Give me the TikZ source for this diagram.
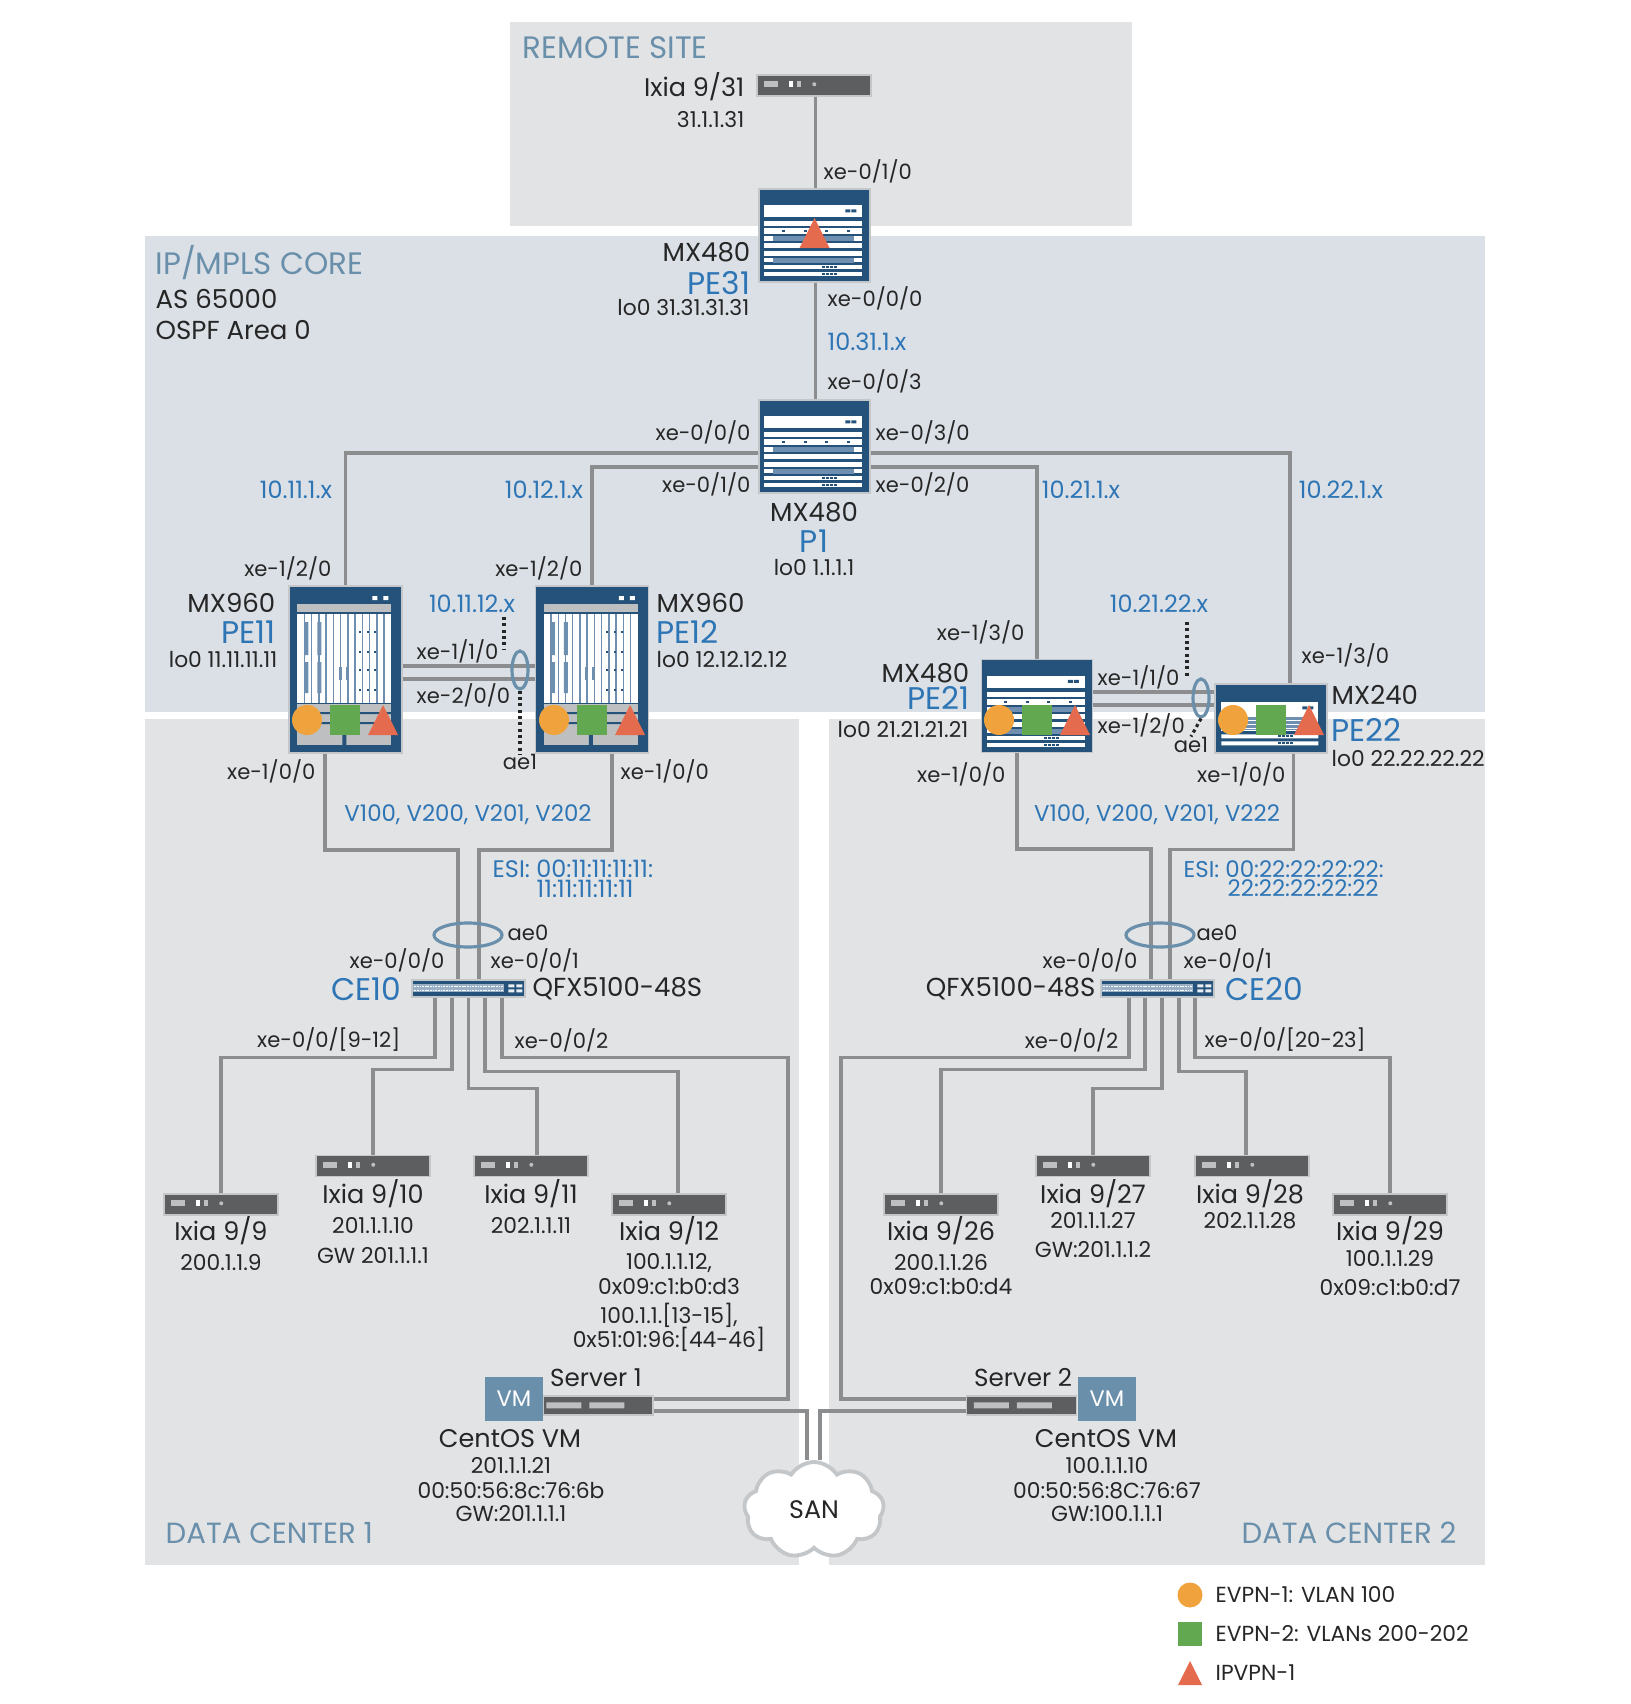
\documentclass[tikz,border=0pt]{standalone}
\usepackage{fontspec}
\setmainfont{Poppins}
\usepackage{xcolor}
\definecolor{mxblue}{HTML}{24527A}
\definecolor{netblue}{HTML}{2E75B5}
\definecolor{zonelabel}{HTML}{6A8FAB}
\definecolor{zonegray}{HTML}{E2E3E5}
\definecolor{zonecore}{HTML}{DAE0E6}
\definecolor{edgegray}{HTML}{C4C7CA}
\definecolor{linkgray}{HTML}{8B8D8F}
\definecolor{ixiagray}{HTML}{5C5E60}
\definecolor{cardgray}{HTML}{BDBFC1}
\definecolor{stripe}{HTML}{6F8FB0}
\definecolor{evpnone}{HTML}{F0A33C}
\definecolor{evpntwo}{HTML}{62A850}
\definecolor{ipvpn}{HTML}{E56B4E}
\usetikzlibrary{shapes.geometric, shapes.symbols}

%% --- faces of the boxes, coordinates from the top left corner ---
\newcommand{\mxfourface}[1]{%
  \begin{scope}[shift={(#1.north west)}]
    \fill[white] (6,17) rectangle (104,29);
    \fill[mxblue] (87,21) rectangle (92,24) (93,21) rectangle (98,24);
    \foreach \ya/\yb in {33/38,40/46,48/53,55/60,63/68,70/74,77/81,84/88}
      \fill[white] (6,\ya) rectangle (104,\yb);
    \foreach \yc in {48,70} \fill[stripe] (15,\yc) rectangle (96,\yc+5);
    \foreach \xc in {25,47,68,90} \fill[mxblue] (\xc-1.5,42) rectangle (\xc+1.5,44);
    \foreach \yc in {79,86} \foreach \xc in {65,69,73,77}
      \fill[mxblue] (\xc-1.3,\yc-1) rectangle (\xc+1.3,\yc+1);
  \end{scope}}
\newcommand{\mxninface}[1]{%
  \begin{scope}[shift={(#1.north west)}]
    \fill[white] (84,11) rectangle (89,15) (95,11) rectangle (100,15);
    \fill[cardgray] (9,19) rectangle (103,27);
    \fill[white] (9,29) rectangle (103,118);
    \foreach \i in {1,...,12} \draw[stripe,line width=0.4pt] (9+\i*7.23,29) -- ++(0,89);
    \foreach \xc in {18,31} \fill[stripe] (\xc-2,37) rectangle (\xc+2,70) (\xc-2,77) rectangle (\xc+2,108);
    \foreach \xc in {72,80,87} \foreach \yc in {47,67,85,105}
      \fill[mxblue] (\xc-.9,\yc-.9) rectangle (\xc+.9,\yc+.9);
    \foreach \xc in {52,59} \fill[stripe] (\xc-1.5,82) rectangle (\xc+1.5,95);
    \fill[cardgray] (9,119) rectangle (103,160);
    \fill[mxblue] (9,127) rectangle (103,129) (9,137) rectangle (103,139) (54,139) rectangle (58,160);
  \end{scope}}
\newcommand{\mxtwoface}[1]{%
  \begin{scope}[shift={(#1.north west)}]
    \fill[white] (7,19) rectangle (104,48);
    \fill[stripe] (20,34) rectangle (96,47);
    \foreach \yc in {37,41,45} \fill[white] (20,\yc) rectangle (96,\yc+1);
    \fill[mxblue] (88,23) rectangle (93,26) (94,23) rectangle (99,26);
    \fill[white] (7,51) rectangle (104,55) (7,58) rectangle (104,62);
    \foreach \yc in {53,60} \foreach \xc in {65,69,73,77}
      \fill[mxblue] (\xc-1.3,\yc-1) rectangle (\xc+1.3,\yc+1);
  \end{scope}}
\newcommand{\ixiaface}[1]{%
  \begin{scope}[shift={(#1.north west)}]
    \fill[cardgray] (8,7) rectangle (22,13);
    \fill[white] (33,7) rectangle (37,13);
    \fill[cardgray] (41,7) rectangle (45,13);
    \fill[cardgray] (58,10) circle (2);
  \end{scope}}
\newcommand{\qfxface}[1]{%
  \begin{scope}[shift={(#1.north west)}]
    \fill[stripe!70!white] (2,5) rectangle (93,13);
    \foreach \yc in {7,11} \draw[white,line width=0.3pt,dash pattern=on 0.5pt off 0.25pt] (3,\yc) -- (92,\yc);
    \foreach \yc in {5,10} \fill[white!85!stripe] (97,\yc) rectangle (103,\yc+3) (105,\yc) rectangle (111,\yc+3);
  \end{scope}}
\newcommand{\serverface}[2]{%
  \begin{scope}[shift={(#1.north west)}]
    \fill[cardgray] (#2,7) rectangle (#2+35,13) (#2+43,7) rectangle (#2+78,13);
  \end{scope}}
\newcommand{\tricon}[3]{\fill[ipvpn,shift={(#1,#2)}] (-#3,#3) -- (#3,#3) -- (0,-#3) -- cycle;}

\begin{document}
\begin{tikzpicture}[
  x=0.01cm, y=-0.01cm,
  every node/.style={inner sep=0pt, text=black!85},
  port/.style={font=\fontsize{6}{7}\selectfont},
  addr/.style={font=\fontsize{6.2}{7}\selectfont},
  model/.style={font=\fontsize{7.25}{8}\selectfont},
  chassis/.style={font=\fontsize{7.4}{8}\selectfont},
  pename/.style={font=\fontsize{8.9}{10}\selectfont, text=netblue},
  subnet/.style={font=\fontsize{6.8}{8}\selectfont, text=netblue},
  vlans/.style={subnet, font=\fontsize{6.5}{8}\selectfont},
  zone/.style={font=\fontsize{8.8}{10}\selectfont, text=zonelabel},
  dczone/.style={zone, font=\fontsize{8.3}{10}\selectfont},
  mxfour/.style={rectangle, draw=edgegray, line width=0.4pt, fill=mxblue,
                 minimum width=1.11cm, minimum height=0.93cm},
  mxnine/.style={mxfour, minimum width=1.13cm, minimum height=1.67cm},
  mxtwo/.style={mxfour, minimum width=1.12cm, minimum height=0.69cm},
  ixia/.style={rectangle, draw=edgegray, line width=0.4pt, fill=ixiagray,
               minimum width=1.14cm, minimum height=0.21cm},
  qfx/.style={mxfour, minimum width=1.13cm, minimum height=0.17cm},
  server/.style={ixia, minimum width=1.10cm, minimum height=0.19cm},
  vmbox/.style={rectangle, fill=zonelabel, text=white, minimum width=0.58cm,
                minimum height=0.44cm, font=\fontsize{6.4}{7}\selectfont},
  link/.style={draw=linkgray, line width=1pt},
  lag/.style={ellipse, draw=zonelabel, line width=0.9pt, fill=none},
  aedot/.style={draw=black!85, line width=0.9pt, dash pattern=on 0.9pt off 0.9pt},
  evpnc/.style={circle, fill=evpnone, minimum size=0.30cm},
  evpns/.style={rectangle, fill=evpntwo, minimum size=0.30cm},
]
\useasboundingbox (0,0) rectangle (1630,1704);

%% --- zones ---
\fill[zonegray] (510,22) rectangle (1132,226);
\fill[zonecore] (145,236) rectangle (1485,712);
\fill[zonegray] (145,719) rectangle (799,1565);
\fill[zonegray] (829,719) rectangle (1485,1565);

\node[zone, anchor=west] (zremote) at (522,48) {REMOTE SITE};
\node[zone, anchor=west] (zcore) at (155,263) {IP/MPLS CORE};
\node[chassis, anchor=west] (zas) at (155,299) {AS 65000};
\node[chassis, anchor=west] (zospf) at (155,330) {OSPF Area 0};
\node[dczone, anchor=west] (zdc1) at (165,1533) {DATA CENTER 1};
\node[dczone, anchor=east] (zdc2) at (1457,1533) {DATA CENTER 2};

%% --- routers ---
\node[mxfour] (pe31) at (814.5,235.5) {}; \mxfourface{pe31}
\node[mxfour] (p1) at (814.5,446.5) {}; \mxfourface{p1}
\node[mxnine] (pe11) at (345.5,669.5) {}; \mxninface{pe11}
\node[mxnine] (pe12) at (592,669.5) {}; \mxninface{pe12}
\node[mxfour] (pe21) at (1037,706) {}; \mxfourface{pe21}
\node[mxtwo] (pe22) at (1271,718.5) {}; \mxtwoface{pe22}

%% --- access switches ---
\node[qfx] (ce10) at (468.5,988.5) {}; \qfxface{ce10}
\node[qfx] (ce20) at (1157.5,988.5) {}; \qfxface{ce20}

%% --- testers ---
\node[ixia] (ixia31) at (814,85.5) {}; \ixiaface{ixia31}
\node[ixia] (ixia9) at (221,1204.5) {}; \ixiaface{ixia9}
\node[ixia] (ixia10) at (373,1166) {}; \ixiaface{ixia10}
\node[ixia] (ixia11) at (531,1166) {}; \ixiaface{ixia11}
\node[ixia] (ixia12) at (669,1204.5) {}; \ixiaface{ixia12}
\node[ixia] (ixia26) at (941,1204.5) {}; \ixiaface{ixia26}
\node[ixia] (ixia27) at (1093,1166) {}; \ixiaface{ixia27}
\node[ixia] (ixia28) at (1252,1166) {}; \ixiaface{ixia28}
\node[ixia] (ixia29) at (1390,1204.5) {}; \ixiaface{ixia29}

%% --- servers and cloud ---
\node[server] (srv1) at (598,1405.5) {}; \serverface{srv1}{4}
\node[server] (srv2) at (1021.5,1405.5) {}; \serverface{srv2}{8}
\node[vmbox] (vm1) at (514,1399) {VM};
\node[vmbox] (vm2) at (1107,1399) {VM};
\node[cloud, cloud puffs=9, cloud puff arc=115, aspect=1.45, draw=edgegray, line width=1.1pt,
      fill=white, minimum width=1.40cm, minimum height=0.96cm,
      font=\fontsize{7.2}{8}\selectfont] (san) at (814,1510) {SAN};

%% --- core links ---
\draw[link] ([shift={(1.5,0)}]ixia31.south) -- ([shift={(1,0)}]pe31.north);
\draw[link] ([shift={(1,0)}]pe31.south) -- ([shift={(1,0)}]p1.north);
\draw[link] ([shift={(0,6.5)}]p1.west) -| (pe11.north);
\draw[link] ([shift={(0,20.5)}]p1.west) -| (pe12.north);
\draw[link] ([shift={(0,20.5)}]p1.east) -| (pe21.north);
\draw[link] ([shift={(0,6.5)}]p1.east) -| ([shift={(19,0)}]pe22.north);
\draw[link] ([shift={(0,-3.5)}]pe11.east) -- ([shift={(0,-3.5)}]pe12.west);
\draw[link] ([shift={(0,9.5)}]pe11.east) -- ([shift={(0,9.5)}]pe12.west);
\draw[link] ([shift={(0,-14)}]pe21.east) -- ([shift={(0,-26.5)}]pe22.west);
\draw[link] ([shift={(0,-1)}]pe21.east) -- ([shift={(0,-13.5)}]pe22.west);

%% --- uplinks to the switches ---
\draw[link] ([shift={(-20.5,0)}]pe11.south) -- ++(0,96) -| ([shift={(-10.5,0)}]ce10.north);
\draw[link] ([shift={(20,0)}]pe12.south) -- ++(0,96) -| ([shift={(10.5,0)}]ce10.north);
\draw[link] ([shift={(-20,0)}]pe21.south) -- ++(0,96) -| ([shift={(-6.5,0)}]ce20.north);
\draw[link] ([shift={(22.5,0)}]pe22.south) -- ++(0,96) -| ([shift={(12.5,0)}]ce20.north);

%% --- access links, data center 1 ---
\draw[link] ([shift={(-33.5,0)}]ce10.south) -- ++(0,60) -| (ixia9.north);
\draw[link] ([shift={(-16.5,0)}]ce10.south) -- ++(0,72) -| (ixia10.north);
\draw[link] (ce10.south) -- ++(0,91) -| ([shift={(6,0)}]ixia11.north);
\draw[link] ([shift={(16.5,0)}]ce10.south) -- ++(0,74) -| ([shift={(9,0)}]ixia12.north);
\draw[link] ([shift={(33.5,0)}]ce10.south) -- ++(0,60) -- ++(286,0) |- ([shift={(0,-6.5)}]srv1.east);
\draw[link] ([shift={(0,5.5)}]srv1.east) -| ([shift={(-7,0)}]san.north);

%% --- access links, data center 2 ---
\draw[link] ([shift={(-28.5,0)}]ce20.south) -- ++(0,60) -- ++(-288,0) |- ([shift={(0,-6.5)}]srv2.west);
\draw[link] ([shift={(-12.5,0)}]ce20.south) -- ++(0,72) -| (ixia26.north);
\draw[link] ([shift={(4.5,0)}]ce20.south) -- ++(0,91) -| (ixia27.north);
\draw[link] ([shift={(21.5,0)}]ce20.south) -- ++(0,74) -| ([shift={(-6,0)}]ixia28.north);
\draw[link] ([shift={(37.5,0)}]ce20.south) -- ++(0,60) -| (ixia29.north);
\draw[link] ([shift={(0,5.5)}]srv2.west) -| ([shift={(6,0)}]san.north);

%% --- aggregated bundles ---
\node[lag, minimum width=0.16cm, minimum height=0.38cm] (ae1a) at (520,670) {};
\node[lag, minimum width=0.16cm, minimum height=0.38cm] (ae1b) at (1201,698) {};
\node[lag, minimum width=0.68cm, minimum height=0.24cm] (ae0a) at (468,935) {};
\node[lag, minimum width=0.68cm, minimum height=0.24cm] (ae0b) at (1160,935) {};

\node[port, anchor=north] (ae1lab) at (520,754) {ae1};
\node[port] (ae1lbb) at (1191,745) {ae1};
\node[subnet] (n1112) at (472,604) {10.11.12.x};
\node[subnet] (n2122) at (1159,604) {10.21.22.x};
\draw[aedot] (504,617) -- (ae1a.north -| 504,0);
\draw[aedot] (ae1a.south) -- (ae1lab.north);
\draw[aedot] (1187,622) -- (ae1b.north -| 1187,0);
\draw[aedot] (ae1b.south) -- (ae1lbb.north);

%% --- icons on the routers ---
\tricon{814.5}{233}{15}
\node[evpnc] (oc11) at (307,720) {}; \node[evpns] (gs11) at (345,720) {}; \tricon{383}{720}{15}
\node[evpnc] (oc12) at (554,720) {}; \node[evpns] (gs12) at (592,720) {}; \tricon{630}{720}{15}
\node[evpnc] (oc21) at (999,720) {}; \node[evpns] (gs21) at (1037,720) {}; \tricon{1075}{720}{15}
\node[evpnc] (oc22) at (1233,720) {}; \node[evpns] (gs22) at (1271,720) {}; \tricon{1309}{720}{15}

%% --- remote site and PE31 labels ---
\node[model, anchor=east] (l31a) at (745,87) {Ixia 9/31};
\node[addr, anchor=east] (l31b) at (745,120) {31.1.1.31};
\node[port, anchor=west] (l31c) at (823,171) {xe-0/1/0};
\node[chassis, anchor=east] (lpe31a) at (751,252) {MX480};
\node[pename, anchor=east] (lpe31b) at (751,283) {PE31};
\node[addr, anchor=east] (lpe31c) at (750,308) {lo0 31.31.31.31};
\node[port, anchor=west] (lpe31d) at (827,298) {xe-0/0/0};
\node[subnet, anchor=west] (n31) at (827,342) {10.31.1.x};

%% --- P1 labels ---
\node[port, anchor=west] (lp1a) at (827,381) {xe-0/0/3};
\node[port, anchor=east] (lp1b) at (751,432) {xe-0/0/0};
\node[port, anchor=west] (lp1c) at (875,432) {xe-0/3/0};
\node[port, anchor=east] (lp1d) at (751,484) {xe-0/1/0};
\node[port, anchor=west] (lp1e) at (875,484) {xe-0/2/0};
\node[chassis] (lp1f) at (814,512) {MX480};
\node[pename] (lp1g) at (814,541) {P1};
\node[addr] (lp1h) at (814,568) {lo0 1.1.1.1};
\node[subnet] (n11) at (296,490) {10.11.1.x};
\node[subnet] (n12) at (544,490) {10.12.1.x};
\node[subnet] (n21) at (1081,490) {10.21.1.x};
\node[subnet] (n22) at (1341,490) {10.22.1.x};

%% --- PE11 and PE12 labels ---
\node[port, anchor=east] (lpe11a) at (332,568) {xe-1/2/0};
\node[port, anchor=east] (lpe12a) at (583,568) {xe-1/2/0};
\node[chassis, anchor=east] (lpe11b) at (276,603) {MX960};
\node[pename, anchor=east] (lpe11c) at (276,632) {PE11};
\node[addr, anchor=east] (lpe11d) at (278,660) {lo0 11.11.11.11};
\node[chassis, anchor=west] (lpe12b) at (656,603) {MX960};
\node[pename, anchor=west] (lpe12c) at (656,632) {PE12};
\node[addr, anchor=west] (lpe12d) at (656,660) {lo0 12.12.12.12};
\node[port, anchor=west] (lae1a) at (416,651) {xe-1/1/0};
\node[port, anchor=west] (lae1b) at (416,695) {xe-2/0/0};
\node[port, anchor=east] (lpe11e) at (316,771) {xe-1/0/0};
\node[port, anchor=west] (lpe12e) at (620,771) {xe-1/0/0};

%% --- PE21 and PE22 labels ---
\node[port, anchor=east] (lpe21a) at (1025,632) {xe-1/3/0};
\node[chassis, anchor=east] (lpe21b) at (970,673) {MX480};
\node[pename, anchor=east] (lpe21c) at (970,698) {PE21};
\node[addr, anchor=east] (lpe21d) at (969,730) {lo0 21.21.21.21};
\node[port, anchor=west] (lae1c) at (1097,677) {xe-1/1/0};
\node[port, anchor=west] (lae1d) at (1097,725) {xe-1/2/0};
\node[port, anchor=west] (lpe22a) at (1301,655) {xe-1/3/0};
\node[chassis, anchor=west] (lpe22b) at (1331,695) {MX240};
\node[pename, anchor=west] (lpe22c) at (1331,730) {PE22};
\node[addr, anchor=west] (lpe22d) at (1331,759) {lo0 22.22.22.22};
\node[port, anchor=east] (lpe21e) at (1006,774) {xe-1/0/0};
\node[port, anchor=east] (lpe22e) at (1286,774) {xe-1/0/0};

%% --- CE10 labels ---
\node[vlans] (vl10) at (468,815) {V100, V200, V201, V202};
\node[subnet, anchor=west] (esi1a) at (492,869) {ESI: 00:11:11:11:11:};
\node[subnet, anchor=west] (esi1b) at (536,889) {11:11:11:11:11};
\node[port, anchor=west] (lae0a) at (507,933) {ae0};
\node[port, anchor=east] (lce10a) at (445,960) {xe-0/0/0};
\node[port, anchor=west] (lce10b) at (490,960) {xe-0/0/1};
\node[pename, anchor=east] (lce10c) at (402,989) {CE10};
\node[chassis, anchor=west] (lce10d) at (532,989) {QFX5100-48S};
\node[port, anchor=east] (lce10e) at (401,1040) {xe-0/0/[9-12]};
\node[port, anchor=west] (lce10f) at (514,1040) {xe-0/0/2};

%% --- CE20 labels ---
\node[vlans] (vl20) at (1157,815) {V100, V200, V201, V222};
\node[vlans, anchor=west] (esi2a) at (1183,869) {ESI: 00:22:22:22:22:};
\node[vlans, anchor=west] (esi2b) at (1227,888) {22:22:22:22:22};
\node[port, anchor=west] (lae0b) at (1196,933) {ae0};
\node[port, anchor=east] (lce20a) at (1138,960) {xe-0/0/0};
\node[port, anchor=west] (lce20b) at (1183,960) {xe-0/0/1};
\node[chassis, anchor=east] (lce20c) at (1096,989) {QFX5100-48S};
\node[pename, anchor=west] (lce20d) at (1225,989) {CE20};
\node[port, anchor=east] (lce20e) at (1119,1040) {xe-0/0/2};
\node[port, anchor=west] (lce20f) at (1204,1040) {xe-0/0/[20-23]};

%% --- tester labels, data center 1 ---
\node[model] (l9a) at (221,1231) {Ixia 9/9};
\node[addr] (l9b) at (221,1263) {200.1.1.9};
\node[model] (l10a) at (373,1194) {Ixia 9/10};
\node[addr] (l10b) at (373,1226) {201.1.1.10};
\node[addr] (l10c) at (373,1256) {GW 201.1.1.1};
\node[model] (l11a) at (531,1194) {Ixia 9/11};
\node[addr] (l11b) at (531,1226) {202.1.1.11};
\node[model] (l12a) at (669,1231) {Ixia 9/12};
\node[addr] (l12b) at (669,1263) {100.1.1.12,};
\node[addr] (l12c) at (669,1287) {0x09:c1:b0:d3};
\node[addr] (l12d) at (669,1315) {100.1.1.[13-15],};
\node[addr] (l12e) at (669,1339) {0x51:01:96:[44-46]};

%% --- tester labels, data center 2 ---
\node[model] (l26a) at (941,1231) {Ixia 9/26};
\node[addr] (l26b) at (941,1263) {200.1.1.26};
\node[addr] (l26c) at (941,1287) {0x09:c1:b0:d4};
\node[model] (l27a) at (1093,1194) {Ixia 9/27};
\node[addr] (l27b) at (1093,1221) {201.1.1.27};
\node[addr] (l27c) at (1093,1250) {GW:201.1.1.2};
\node[model] (l28a) at (1250,1194) {Ixia 9/28};
\node[addr] (l28b) at (1250,1221) {202.1.1.28};
\node[model] (l29a) at (1390,1231) {Ixia 9/29};
\node[addr] (l29b) at (1390,1259) {100.1.1.29};
\node[addr] (l29c) at (1390,1288) {0x09:c1:b0:d7};

%% --- server labels ---
\node[font=\fontsize{7}{8}\selectfont] (ls1a) at (596,1378) {Server 1};
\node[model] (ls1b) at (510,1439) {CentOS VM};
\node[addr] (ls1c) at (511,1466) {201.1.1.21};
\node[addr] (ls1d) at (511,1491) {00:50:56:8c:76:6b};
\node[addr] (ls1e) at (511,1514) {GW:201.1.1.1};
\node[font=\fontsize{7}{8}\selectfont] (ls2a) at (1023,1378) {Server 2};
\node[model] (ls2b) at (1106,1439) {CentOS VM};
\node[addr] (ls2c) at (1107,1466) {100.1.1.10};
\node[addr] (ls2d) at (1107,1491) {00:50:56:8C:76:67};
\node[addr] (ls2e) at (1107,1514) {GW:100.1.1.1};

%% --- legend ---
\node[evpnc, minimum size=0.25cm] (leg1) at (1190,1595) {};
\node[evpns, minimum size=0.24cm] (leg2) at (1190,1634) {};
\tricon{1190}{1673}{12}
\node[addr, anchor=west] (lt1) at (1215,1595) {EVPN-1: VLAN 100};
\node[addr, anchor=west] (lt2) at (1215,1634) {EVPN-2: VLANs 200-202};
\node[addr, anchor=west] (lt3) at (1215,1673) {IPVPN-1};
\end{tikzpicture}
\end{document}
